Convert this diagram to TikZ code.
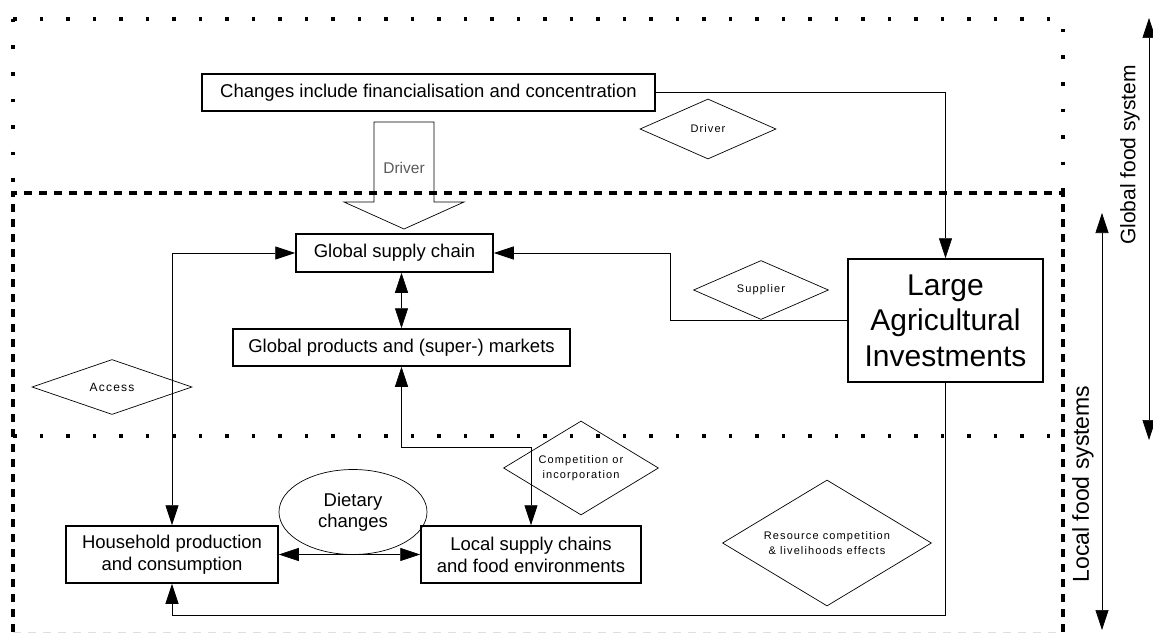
\documentclass[tikz,border=0pt]{standalone}
\usepackage{fontspec}
\setmainfont{Liberation Sans}
\newfontfamily\labelfont[LetterSpace=10]{Liberation Sans}
\usetikzlibrary{arrows.meta,shapes.geometric}

\begin{document}
\begin{tikzpicture}[x=1pt,y=-1pt,
  box/.style={draw,line width=1.5pt,inner sep=0pt,align=center,
    font=\fontsize{18.5}{22}\selectfont},
  choice/.style={draw,line width=0.7pt,shape=diamond,inner sep=0pt,align=center,
    font={\labelfont\fontsize{11}{15}\selectfont}},
  conn/.style={line width=0.7pt,>={Triangle[length=20pt,width=13pt]}},
  dotline/.style={line width=3.5pt,dash pattern=on 3.5pt off 23pt},
  dashline/.style={line width=3.3pt,dash pattern=on 8pt off 7pt},
  side/.style={rotate=90,font=\fontsize{21}{24}\selectfont},
]
\useasboundingbox (0,0) rectangle (1153,634);

% global food system region (dotted)
\draw[dotline] (13,19) -- (1063,19) -- (1063,193);
\draw[dotline] (13,19) -- (13,193);
\draw[dotline] (13,436) -- (1063,436);
% local food systems region (dashed)
\draw[dashline] (13,632) -- (13,193) -- (1063,193) -- (1063,632);
\draw[gray!25,line width=1pt,dash pattern=on 8pt off 7pt] (13,632) -- (1063,632);

% boxes
\node[box,minimum width=453pt,minimum height=37pt] (changes) at (428.5,92.5)
  {Changes include financialisation and concentration};
\node[box,minimum width=197pt,minimum height=38pt] (gsc) at (394.5,253)
  {Global supply chain};
\node[box,minimum width=337pt,minimum height=37pt] (gpm) at (401.5,347.5)
  {Global products and (super-) markets};
\node[box,minimum width=195pt,minimum height=123pt,
  font=\fontsize{30}{35.5}\selectfont] (lai) at (945.5,320.5)
  {Large\\Agricultural\\Investments};
\node[box,minimum width=212pt,minimum height=57pt] (hh) at (172,554.5)
  {Household production\\and consumption};
\node[box,minimum width=220pt,minimum height=57pt] (lsc) at (531,554.5)
  {Local supply chains\\and food environments};
\node[draw,ellipse,line width=0.7pt,minimum width=148pt,minimum height=85pt,
  inner sep=0pt,align=center,font=\fontsize{18.5}{21}\selectfont] (diet) at (353,512)
  {Dietary\\changes};

% relation labels
\node[choice,shape aspect=2.27,minimum width=136pt,minimum height=60pt] (drv) at (708,129) {Driver};
\node[choice,shape aspect=2.29,minimum width=135pt,minimum height=59pt] (sup) at (761,290) {Supplier};
\node[choice,shape aspect=2.9,minimum width=160pt,minimum height=55pt,
  font={\labelfont\fontsize{12}{15}\selectfont}] (acc) at (112,387) {Access};
\node[choice,shape aspect=1.65,minimum width=155pt,minimum height=94pt] (comp) at (581,468)
  {Competition or\\incorporation};
\node[choice,shape aspect=1.66,minimum width=209pt,minimum height=126pt] (res) at (827,543)
  {Resource competition\\\& livelihoods effects};

% broad driver arrow
\draw[line width=0.7pt] (374,122) -- (434,122) -- (434,202) -- (464,202)
  -- (404,229) -- (344,202) -- (374,202) -- cycle;
\node[text=gray!70!black,font=\fontsize{15.5}{18}\selectfont] (drvtxt) at (404,168) {Driver};

% connectors
\draw[conn,->] (changes.east) -| (lai.north);
\draw[conn,->] (lai.west) -- ++(-177,0) |- (gsc.east);
\draw[conn,<->] (gsc.south -| gpm.north) -- (gpm.north);
\draw[conn,<->] (gpm.south) -- ++(0,81) -| (lsc.north);
\draw[conn,<->] (gsc.west) -| (hh.north);
\draw[conn,<->] (hh.east) -- (lsc.west);
\draw[conn,->] (lai.south) -- ++(0,233) -| (hh.south);

% scale arrows
\coordinate (gtop) at (1149,18);
\coordinate (gbot) at (1149,440);
\coordinate (ltop) at (1102,213);
\coordinate (lbot) at (1102,630);
\draw[conn,<->] (gtop) -- (gbot);
\draw[conn,<->] (ltop) -- (lbot);
\node[side] (gfs) at (1130,155) {Global food system};
\node[side,font=\fontsize{23}{26}\selectfont] (lfs) at (1083,484) {Local food systems};
\end{tikzpicture}
\end{document}
